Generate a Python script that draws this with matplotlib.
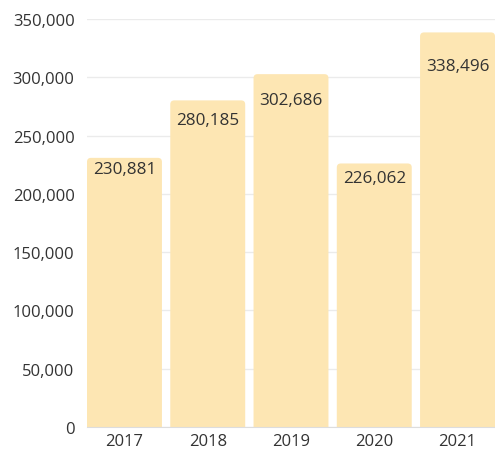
import matplotlib.pyplot as plt
from matplotlib.patches import FancyBboxPatch
from matplotlib.ticker import FuncFormatter

years = ["2017", "2018", "2019", "2020", "2021"]
values = [230881, 280185, 302686, 226062, 338496]
y_ticks = [0, 50000, 100000, 150000, 200000, 250000, 300000, 350000]

bar_color = "#FDE6B3"
text_color = "#333333"
plt.rcParams["font.family"] = ["Open Sans", "DejaVu Sans"]

fig = plt.figure(figsize=(4.95, 4.52), dpi=100)
ax = fig.add_axes([87 / 495, 24 / 452, 408 / 495, 408 / 452])

x = range(len(years))
width = 0.9
bars = ax.bar(x, values, width=width, color="none")

ax.set_xlim(-0.45, len(years) - 0.55)
ax.set_ylim(0, 350000)

# rounded top corners, bottom corners pushed below the axis and clipped
x_per_px = (len(years) - 0.1) / 408
y_per_px = 350000 / 408
aspect = y_per_px / x_per_px
r = 4 * x_per_px
# label drop below the bar top, in pixels (as in the original)
label_drop = [11, 20, 26, 15, 34]
for b, v, d in zip(bars, values, label_drop):
    patch = FancyBboxPatch((b.get_x(), -10 * y_per_px), b.get_width(),
                           v + 10 * y_per_px,
                           boxstyle="round,pad=0,rounding_size=%f" % r,
                           mutation_aspect=aspect,
                           facecolor=bar_color, edgecolor="none", zorder=2)
    ax.add_patch(patch)
    ax.annotate(f"{v:,}", (b.get_x() + b.get_width() / 2, v),
                xytext=(0, -d * 0.72), textcoords="offset points",
                ha="center", va="center", fontsize=12.3,
                color=text_color, zorder=3, annotation_clip=False)

ax.set_xticks(list(x))
ax.set_xticklabels(years)
ax.set_yticks(y_ticks)
ax.yaxis.set_major_formatter(FuncFormatter(lambda v, p: f"{int(v):,}"))
ax.tick_params(axis="both", length=0, labelsize=12, colors=text_color)
ax.tick_params(axis="y", pad=9)
ax.tick_params(axis="x", pad=4)
ax.grid(axis="y", color="#EBEBEB", linewidth=1, zorder=0)
ax.set_axisbelow(True)
for s in ["top", "right", "left"]:
    ax.spines[s].set_visible(False)
ax.spines["bottom"].set_color("#DDDDDD")

fig.savefig("out.png", dpi=100)
